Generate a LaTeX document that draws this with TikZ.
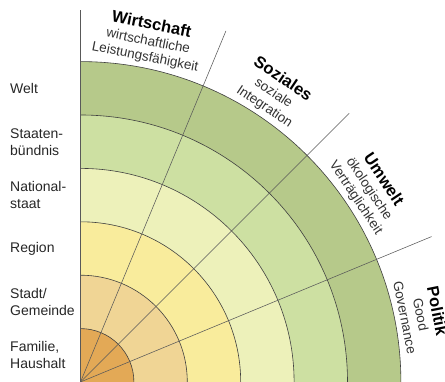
\documentclass[tikz,border=0pt]{standalone}
\usepackage{fontspec}
\setmainfont{Liberation Sans}
\definecolor{ringa}{HTML}{E3A956}
\definecolor{ringb}{HTML}{F0D595}
\definecolor{ringc}{HTML}{F9EC9C}
\definecolor{ringd}{HTML}{EDF1BA}
\definecolor{ringe}{HTML}{CDE0A2}
\definecolor{ringf}{HTML}{B6C98A}
\begin{document}
\begin{tikzpicture}[x=1pt,y=1pt]
        \tikzstyle{ebene}=[anchor=west, align=left, inner sep=0pt, text=black!85, font=\fontsize{14}{17}\selectfont]
        \tikzstyle{dimension}=[align=center, inner sep=0pt, text=black!80, font=\fontsize{13.5}{16}\selectfont]
        \tikzstyle{bogen}=[draw=black!75, line width=0.6pt]
        \tikzstyle{strahl}=[draw=black!65, line width=0.55pt]
        \useasboundingbox (-80.5,0) rectangle (364.5,382);
        \coordinate (m) at (0,0);
        % Ringe von aussen nach innen
        \foreach \k/\c in {6/ringf,5/ringe,4/ringd,3/ringc,2/ringb,1/ringa}
          \fill[\c] (m) -- (0:\k*53.4) arc[start angle=0, end angle=90, radius=\k*53.4] -- cycle;
        \foreach \k in {1,...,6}
          \draw[bogen] (0:\k*53.4) arc[start angle=0, end angle=90, radius=\k*53.4];
        \coordinate (achse) at (0,372);
        \draw[strahl] (m) -- (achse);
        \foreach \a [count=\i] in {22.5,45,67.5} {
          \coordinate (s\i) at (\a:380);
          \draw[strahl] (m) -- (s\i);
        }
        % Ebenen
        \foreach \k/\txt [count=\i] in {6/Welt, 5/{Staaten-\\bündnis}, 4/{National-\\staat}, 3/Region, 2/{Stadt/\\Gemeinde}, 1/{Familie,\\Haushalt}}
          \node[ebene] (e\i) at (-70.5,{(\k-0.5)*53.4}) {\txt};
        % Dimensionen
        \foreach \a/\t/\u/\v [count=\i] in {78.75/Wirtschaft/wirtschaftliche/Leistungsfähigkeit, 56.25/Soziales/soziale/Integration, 33.75/Umwelt/ökologische/Verträglichkeit, 11.25/Politik/Good/Governance}
          \node[dimension, rotate=\a-90] (d\i) at (\a:348) {{\fontsize{16.5}{18}\selectfont\bfseries\color{black} \t}\\\u\\\v};
      \end{tikzpicture}
\end{document}
